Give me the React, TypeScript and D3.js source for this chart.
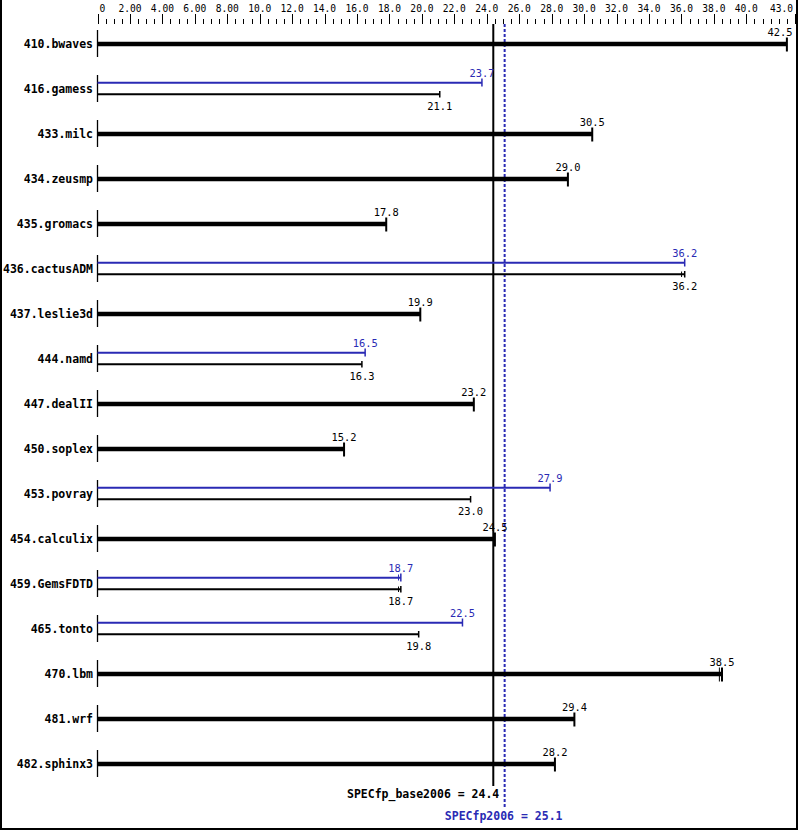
import React from "react";
import * as d3 from "d3";

const benchmarks = ["410.bwaves","416.gamess","433.milc","434.zeusmp","435.gromacs","436.cactusADM","437.leslie3d","444.namd","447.dealII","450.soplex","453.povray","454.calculix","459.GemsFDTD","465.tonto","470.lbm","481.wrf","482.sphinx3"];
const baseValues = [42.5,21.1,30.5,29.0,17.8,36.2,19.9,16.3,23.2,15.2,23.0,24.5,18.7,19.8,38.5,29.4,28.2];
const peakValues: (number | null)[] = [null,23.7,null,null,null,36.2,null,16.5,null,null,27.9,null,18.7,22.5,null,null,null];
// secondary run markers (slightly different run results), estimated
const baseRunMarks: (number | null)[] = [null,null,null,null,null,36.1,null,null,null,null,null,null,18.65,null,38.4,null,null];
const peakRunMarks: (number | null)[] = [null,null,null,null,null,null,null,null,null,null,null,null,18.65,null,null,null,null];
const tickLabels = ["0","2.00","4.00","6.00","8.00","10.0","12.0","14.0","16.0","18.0","20.0","22.0","24.0","26.0","28.0","30.0","32.0","34.0","36.0","38.0","40.0","43.0"];
const tickValues = [0,2,4,6,8,10,12,14,16,18,20,22,24,26,28,30,32,34,36,38,40,43];
const specBase = 24.4;
const specPeak = 25.1;

const BLUE = "#2a2ab4";
const MONO = "'DejaVu Sans Mono', monospace";

export default function App() {
  const W = 799, H = 831;
  const x = d3.scaleLinear().domain([0, 43]).range([97.5, 795]);
  const rowY = (i: number) => 43.5 + 45 * i;
  const minorTicks = d3.range(0, 43.01, 0.5);
  const labelX = (v: number) => Math.min(x(v), 780);

  return (
    <svg width={W} height={H} style={{ position: "absolute", left: 0, top: 0, background: "#fff" }}>
      <rect x={0} y={0} width={W} height={H} fill="#fff" />
      {/* frame */}
      <line x1={1} y1={0} x2={1} y2={830} stroke="#000" strokeWidth={2} />
      <line x1={797} y1={0} x2={797} y2={830} stroke="#000" strokeWidth={2} />
      <line x1={0} y1={829} x2={798} y2={829} stroke="#000" strokeWidth={2} />

      {/* axis ticks */}
      {minorTicks.map((t) => {
        const major = tickValues.includes(t);
        return (
          <line key={"t" + t} x1={Math.round(x(t)) + 0.5} x2={Math.round(x(t)) + 0.5} y1={major ? 14 : 19} y2={24} stroke="#000" strokeWidth={1} />
        );
      })}
      {tickValues.map((t, i) => {
        const px = x(t);
        let anchor: "start" | "middle" | "end" = "middle";
        let tx = px;
        if (i === 0) { anchor = "start"; tx = px + 2; }
        if (i === tickValues.length - 1) { anchor = "end"; tx = 793; }
        return (
          <text key={"tl" + i} x={tx} y={12} fontSize={9.6} fontFamily={MONO} textAnchor={anchor} fill="#000">
            {tickLabels[i]}
          </text>
        );
      })}

      {/* SPEC lines */}
      <line x1={x(specBase)} x2={x(specBase)} y1={24} y2={786} stroke="#000" strokeWidth={2} />
      <line x1={x(specPeak)} x2={x(specPeak)} y1={24} y2={807} stroke={BLUE} strokeWidth={2} strokeDasharray="3,2" />
      <text x={x(specBase) + 6} y={798} fontSize={11.5} fontWeight="bold" fontFamily={MONO} textAnchor="end" fill="#000">
        {`SPECfp_base2006 = ${specBase.toFixed(1)}`}
      </text>
      <text x={x(specPeak) - 1} y={820} fontSize={11.5} fontWeight="bold" fontFamily={MONO} textAnchor="middle" fill={BLUE}>
        {`SPECfp2006 = ${specPeak.toFixed(1)}`}
      </text>

      {benchmarks.map((name, i) => {
        const c = rowY(i);
        const b = baseValues[i];
        const p = peakValues[i];
        const x0 = x(0);
        return (
          <g key={name}>
            <text x={93} y={c + 4} fontSize={11.5} fontWeight="bold" fontFamily={MONO} textAnchor="end" fill="#000">{name}</text>
            <line x1={x0} x2={x0} y1={c - 13.5} y2={c + 13.5} stroke="#000" strokeWidth={1.3} />
            {p === null ? (
              <g>
                <line x1={x0} x2={x(b)} y1={c + 0.5} y2={c + 0.5} stroke="#000" strokeWidth={4.5} />
                <line x1={x(b)} x2={x(b)} y1={c - 6} y2={c + 8} stroke="#000" strokeWidth={2} />
                {baseRunMarks[i] !== null && (
                  <line x1={x(baseRunMarks[i] as number) - 1} x2={x(baseRunMarks[i] as number) - 1} y1={c - 6} y2={c + 8} stroke="#000" strokeWidth={1} />
                )}
                <text x={labelX(b)} y={c - 7.5} fontSize={10.4} fontFamily={MONO} textAnchor="middle" fill="#000">{b.toFixed(1)}</text>
              </g>
            ) : (
              <g>
                <line x1={x0} x2={x(p)} y1={c - 5.8} y2={c - 5.8} stroke={BLUE} strokeWidth={2} />
                <line x1={x(p)} x2={x(p)} y1={c - 10} y2={c - 2} stroke={BLUE} strokeWidth={1.5} />
                {peakRunMarks[i] !== null && (
                  <line x1={x(peakRunMarks[i] as number) - 1.5} x2={x(peakRunMarks[i] as number) - 1.5} y1={c - 9} y2={c - 3} stroke={BLUE} strokeWidth={1} />
                )}
                <text x={labelX(p)} y={c - 12} fontSize={10.4} fontFamily={MONO} textAnchor="middle" fill={BLUE}>{p.toFixed(1)}</text>
                <line x1={x0} x2={x(b)} y1={c + 5.8} y2={c + 5.8} stroke="#000" strokeWidth={2} />
                <line x1={x(b)} x2={x(b)} y1={c + 2.5} y2={c + 9} stroke="#000" strokeWidth={1.5} />
                {baseRunMarks[i] !== null && (
                  <line x1={x(baseRunMarks[i] as number) - 1.5} x2={x(baseRunMarks[i] as number) - 1.5} y1={c + 3} y2={c + 8.5} stroke="#000" strokeWidth={1} />
                )}
                <text x={labelX(b)} y={c + 21.5} fontSize={10.4} fontFamily={MONO} textAnchor="middle" fill="#000">{b.toFixed(1)}</text>
              </g>
            )}
          </g>
        );
      })}
    </svg>
  );
}
